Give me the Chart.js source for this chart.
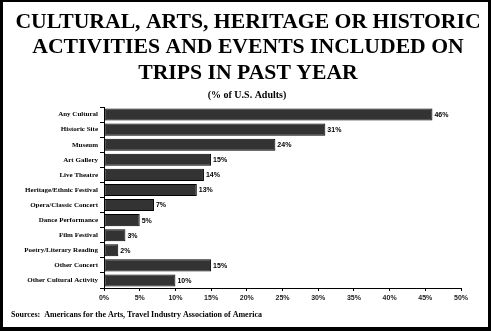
<!DOCTYPE html>
<html>
<head>
<meta charset="utf-8">
<script src="https://cdn.jsdelivr.net/npm/chart.js@4/dist/chart.umd.min.js"></script>
<style>
  html, body { margin: 0; padding: 0; background: #fff; }
  #wrap { position: relative; width: 491px; height: 331px; }
  canvas { display: block; }
</style>
</head>
<body>
<div id="wrap"><canvas id="c" width="491" height="331"></canvas></div>
<script>
// Activities included on trips in the past year
const categories = [
  'Any Cultural',
  'Historic Site',
  'Museum',
  'Art Gallery',
  'Live Theatre',
  'Heritage/Ethnic Festival',
  'Opera/Classic Concert',
  'Dance Performance',
  'Film Festival',
  'Poetry/Literary Reading',
  'Other Concert',
  'Other Cultural Activity'
];
// Share of U.S. adults, percent
const shares = [46, 31, 24, 15, 14, 13, 7, 5, 3, 2, 15, 10];
// Value axis ticks, percent
const tickValues = [0, 5, 10, 15, 20, 25, 30, 35, 40, 45, 50];

const titleLines = [
  'CULTURAL, ARTS, HERITAGE OR HISTORIC',
  'ACTIVITIES AND EVENTS INCLUDED ON',
  'TRIPS IN PAST YEAR'
];
const subtitleText = '(% of U.S. Adults)';
const sourceText = 'Sources:  Americans for the Arts, Travel Industry Association of America';

const SERIF = '"Liberation Serif", "Times New Roman", serif';
const SANS = '"Liberation Sans", Arial, sans-serif';

// White page with a heavy black frame, page heading and source note
const pagePlugin = {
  id: 'page',
  beforeDraw(chart) {
    const { ctx, width, height } = chart;
    ctx.save();
    ctx.fillStyle = '#ffffff';
    ctx.fillRect(0, 0, width, height);
    ctx.fillStyle = '#000000';
    ctx.fillRect(0, 0, width, 2);          // top
    ctx.fillRect(0, 0, 3, height);         // left
    ctx.fillRect(width - 3, 0, 3, height); // right
    ctx.fillRect(0, height - 4, width, 4); // bottom
    ctx.restore();
  },
  afterDraw(chart) {
    const { ctx } = chart;
    ctx.save();
    ctx.fillStyle = '#000000';
    ctx.textBaseline = 'middle';

    // heading, centred on the page
    ctx.textAlign = 'center';
    ctx.font = 'bold 21.7px ' + SERIF;
    const lineY = [22, 47.5, 73];
    titleLines.forEach((t, i) => ctx.fillText(t, 248, lineY[i]));
    ctx.font = 'bold 10px ' + SERIF;
    ctx.fillText(subtitleText, 247, 95.5);

    // source note
    ctx.textAlign = 'left';
    ctx.font = 'bold 8px ' + SERIF;
    ctx.fillText(sourceText, 11, 315);
    ctx.restore();
  }
};

// Percent labels just past the end of each bar
const valueLabels = {
  id: 'valueLabels',
  afterDatasetsDraw(chart) {
    const { ctx } = chart;
    const meta = chart.getDatasetMeta(0);
    ctx.save();
    ctx.fillStyle = '#000000';
    ctx.font = 'bold 7px ' + SANS;
    ctx.textAlign = 'left';
    ctx.textBaseline = 'middle';
    meta.data.forEach((bar, i) => {
      ctx.fillText(shares[i] + '%', bar.x + 2, bar.y + 0.5);
    });
    ctx.restore();
  }
};

new Chart(document.getElementById('c'), {
  type: 'bar',
  data: {
    labels: categories,
    datasets: [{
      data: shares,
      backgroundColor: '#333333',
      borderColor: '#000000',
      borderWidth: 1,
      borderSkipped: false,
      categoryPercentage: 0.8,
      barPercentage: 1.0
    }]
  },
  options: {
    indexAxis: 'y',
    responsive: false,
    animation: false,
    devicePixelRatio: 1,
    layout: { padding: { top: 107, left: 0, right: 30, bottom: 0 } },
    plugins: {
      legend: { display: false },
      tooltip: { enabled: false },
      title: { display: false },
      subtitle: { display: false }
    },
    scales: {
      x: {
        type: 'linear',
        min: 0,
        max: 50,
        afterBuildTicks(scale) {
          scale.ticks = tickValues.map(v => ({ value: v }));
        },
        afterFit(scale) { scale.height = 43; },
        border: { display: true, color: '#000000', width: 1 },
        grid: { drawOnChartArea: false, drawTicks: true, tickLength: 3, color: '#000000' },
        ticks: {
          color: '#222222',
          padding: 3,
          maxRotation: 0,
          autoSkip: false,
          font: { family: SANS, size: 7, weight: 'bold' },
          callback: v => v + '%'
        }
      },
      y: {
        type: 'category',
        offset: true,
        afterFit(scale) { scale.width = 104; },
        border: { display: true, color: '#000000', width: 1 },
        grid: { offset: true, drawOnChartArea: false, drawTicks: true, tickLength: 4, color: '#000000' },
        ticks: {
          color: '#000000',
          padding: 2,
          autoSkip: false,
          font: { family: SERIF, size: 7, weight: 'bold' }
        }
      }
    }
  },
  plugins: [pagePlugin, valueLabels]
});
</script>
</body>
</html>
